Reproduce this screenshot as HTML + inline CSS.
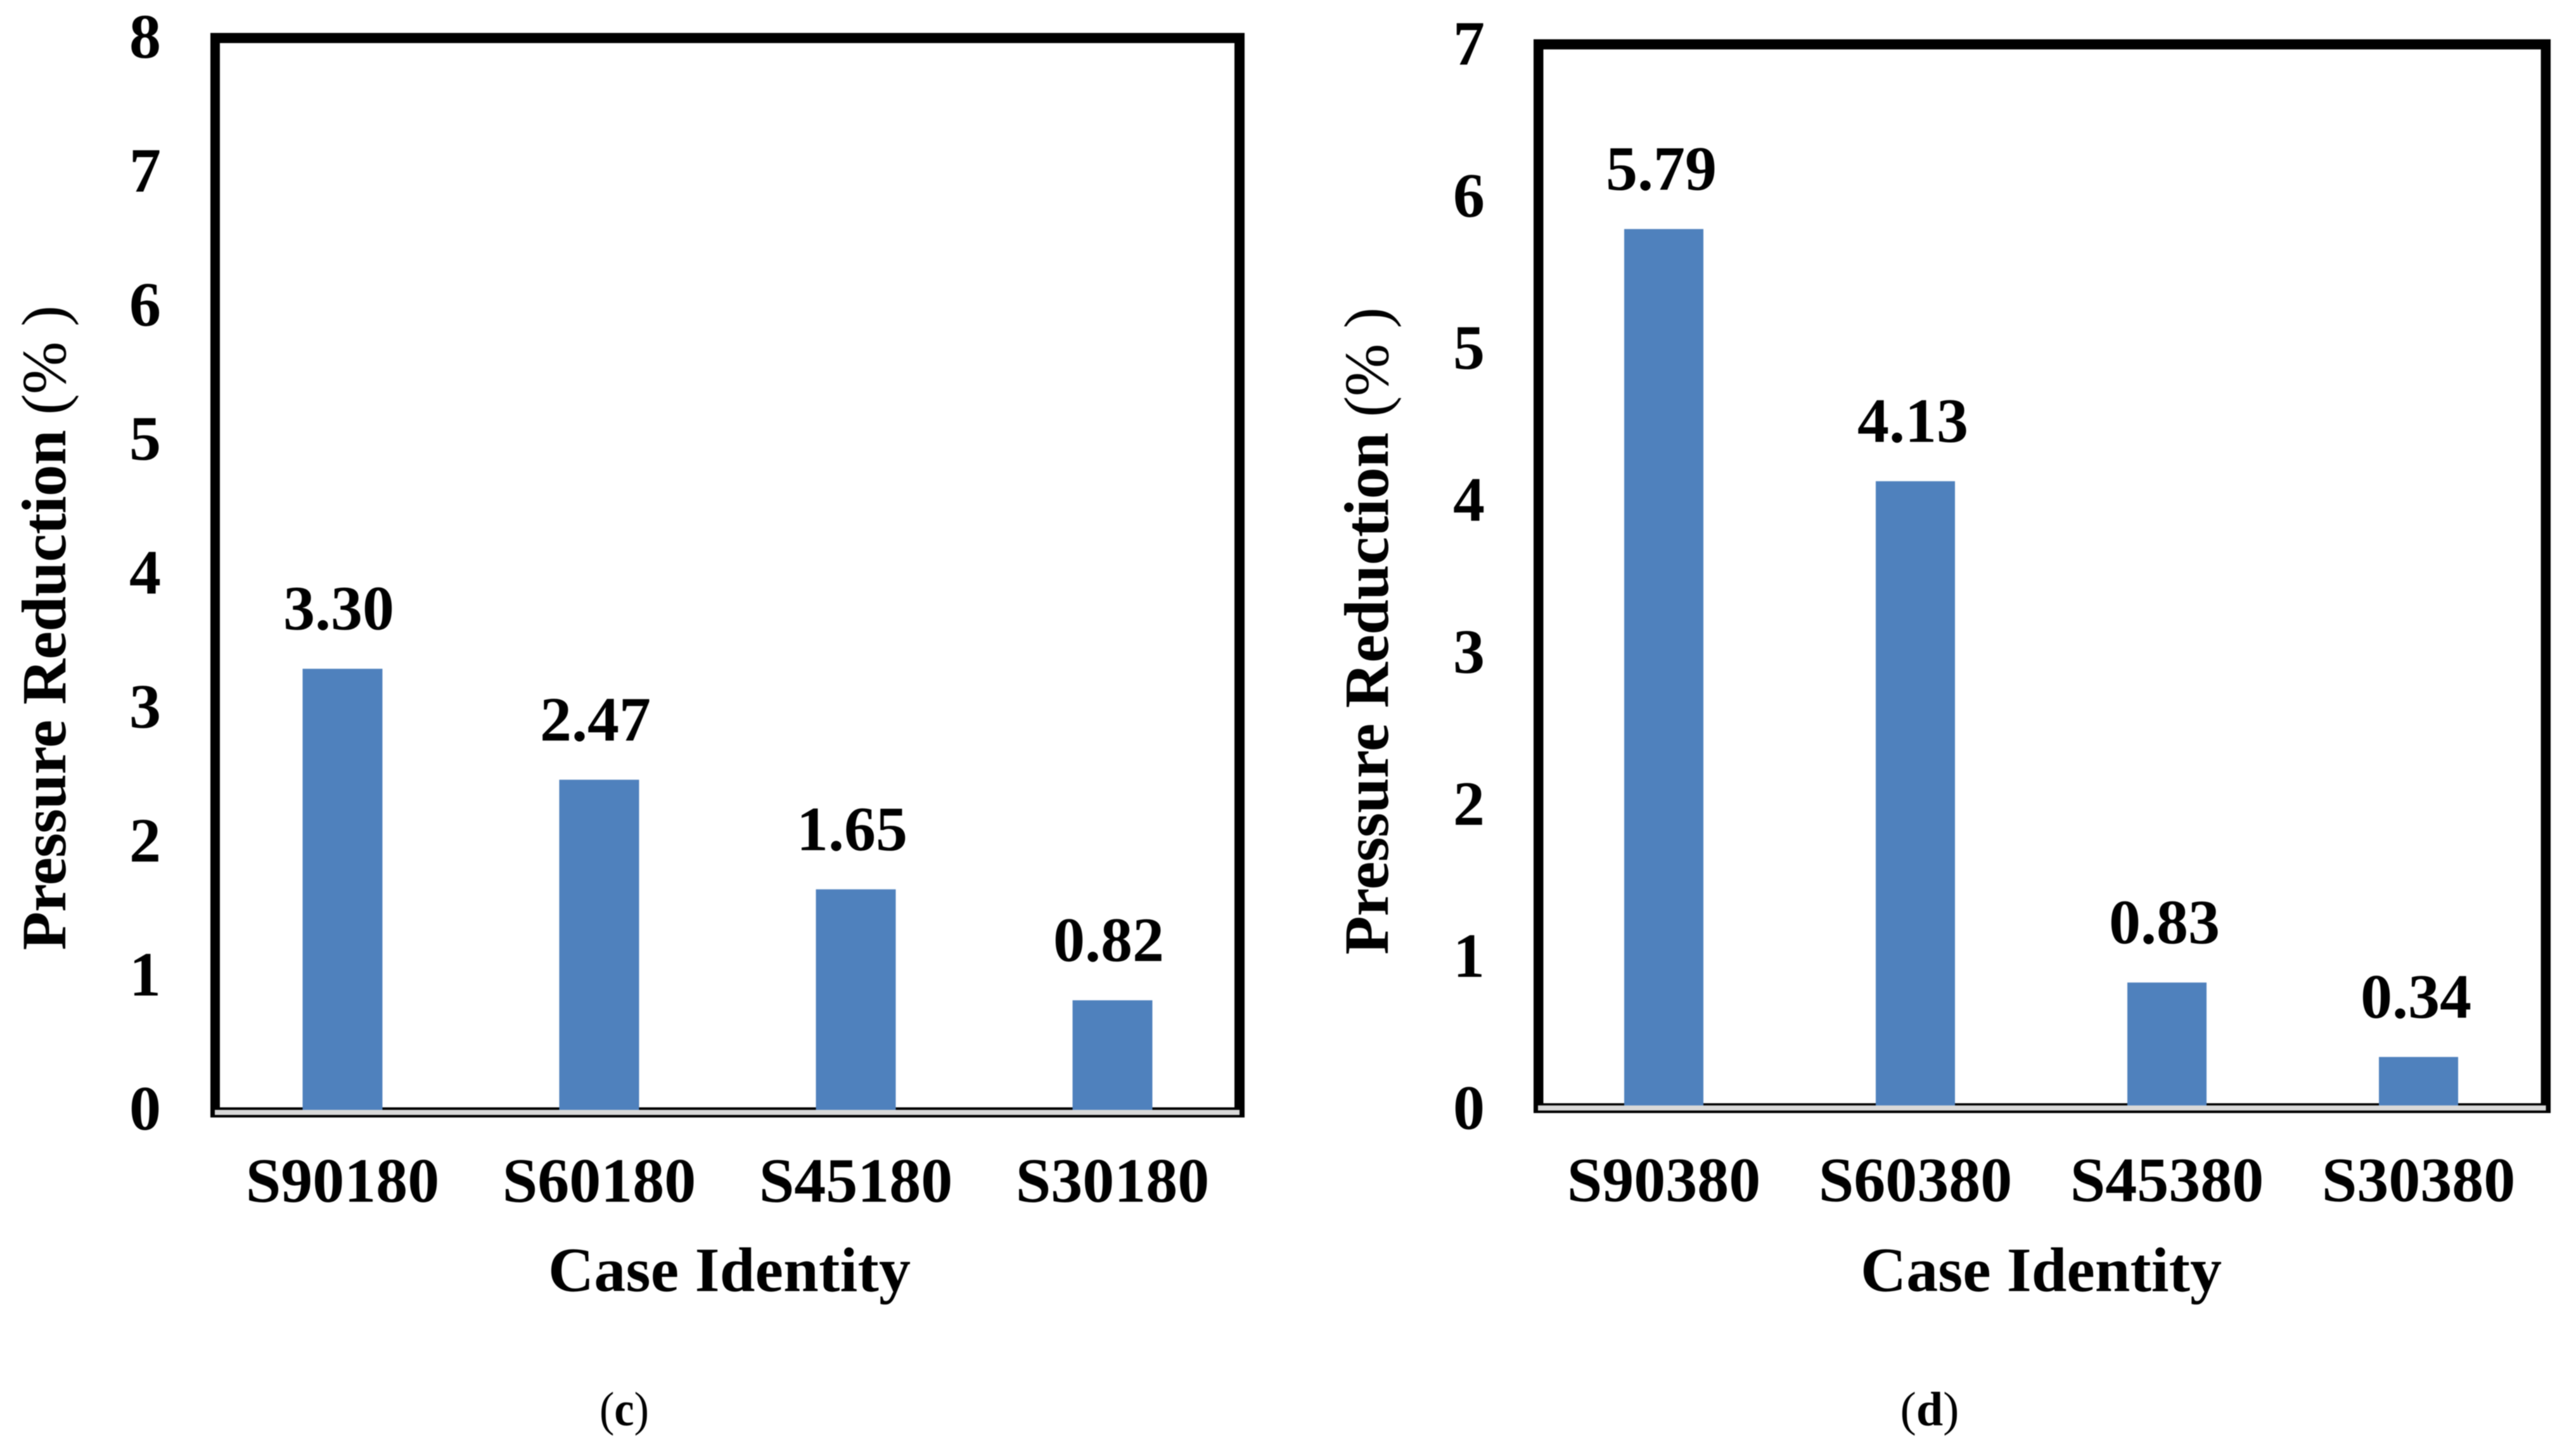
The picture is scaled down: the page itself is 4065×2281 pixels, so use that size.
<!DOCTYPE html>
<html lang="en">
<head>
<meta charset="utf-8">
<title>Pressure Reduction by Case Identity</title>
<style>
html,body{margin:0;padding:0;background:#fff;}
svg{display:block;filter:blur(0.8px);}
text{font-family:"Liberation Serif",serif;font-weight:bold;fill:#000;}
</style>
</head>
<body>
<svg id="figure" xmlns="http://www.w3.org/2000/svg" width="4065" height="2281" viewBox="0 0 4065 2281">
  <rect x="0" y="0" width="4065" height="2281" fill="#ffffff"/>
  <g id="panel-c">
    <rect x="332" y="52" width="1632" height="1712" fill="#000"/>
    <rect x="347" y="68" width="1601" height="1680" fill="#fff"/>
    <rect x="339" y="1752" width="1617" height="8" fill="#d9d9d9"/>
    <text transform="translate(103,1500) rotate(-90)" font-size="100" textLength="1018">Pressure Reduction <tspan font-weight="normal">(% )</tspan></text>
    <text x="1151" y="2038" font-size="100" text-anchor="middle" textLength="572">Case Identity</text>
    <text x="985" y="2250" font-size="76" text-anchor="middle" textLength="78" lengthAdjust="spacingAndGlyphs"><tspan font-weight="normal">(</tspan>c<tspan font-weight="normal">)</tspan></text>
  </g>
  <g id="panel-d">
    <rect x="2420" y="62" width="1605" height="1695" fill="#000"/>
    <rect x="2435.5" y="78" width="1574" height="1663.5" fill="#fff"/>
    <rect x="2427" y="1745" width="1590.5" height="8" fill="#d9d9d9"/>
    <text transform="translate(2190,1507) rotate(-90)" font-size="100" textLength="1022">Pressure Reduction <tspan font-weight="normal">(% )</tspan></text>
    <text x="3221" y="2038" font-size="100" text-anchor="middle" textLength="570">Case Identity</text>
    <text x="3045" y="2250" font-size="76" text-anchor="middle"><tspan font-weight="normal">(</tspan>d<tspan font-weight="normal">)</tspan></text>
  </g>
</svg>
<script>
var categoriesC = ["S90180", "S60180", "S45180", "S30180"];
var valuesC = [3.30, 2.47, 1.65, 0.82];
var yTicksC = [0, 1, 2, 3, 4, 5, 6, 7, 8];

var categoriesD = ["S90380", "S60380", "S45380", "S30380"];
var valuesD = [5.79, 4.13, 0.83, 0.34];
var yTicksD = [0, 1, 2, 3, 4, 5, 6, 7];

var NS = "http://www.w3.org/2000/svg";

function makeBandScale(start, step) {
  return function (i) { return start + (i + 0.5) * step; };
}
function makeLinearScale(zero, perUnit) {
  return function (v) { return zero - v * perUnit; };
}

function drawPanel(prefix, cats, vals, ticks, opt) {
  var parent = document.getElementById("panel-" + prefix);
  var x = makeBandScale(opt.bandStart, opt.bandStep);
  var y = makeLinearScale(opt.zeroY, opt.unit);
  var tickY = makeLinearScale(opt.tickZero, opt.tickUnit);

  ticks.forEach(function (t) {
    var label = document.createElementNS(NS, "text");
    
    
    label.setAttribute("x", opt.tickX);
    label.setAttribute("y", tickY(t));
    label.setAttribute("font-size", 100);
    label.setAttribute("text-anchor", "end");
    label.textContent = String(t);
    parent.appendChild(label);
  });

  cats.forEach(function (cat, i) {
    var cx = x(i);
    var top = y(vals[i]);

    var bar = document.createElementNS(NS, "rect");
    
    
    bar.setAttribute("x", cx - opt.barWidth / 2);
    bar.setAttribute("y", top);
    bar.setAttribute("width", opt.barWidth);
    bar.setAttribute("height", opt.barBottom - top);
    bar.setAttribute("fill", "#4f81bd");
    parent.appendChild(bar);

    var value = document.createElementNS(NS, "text");
    
    
    value.setAttribute("x", cx + opt.valueDx);
    value.setAttribute("y", top - 62);
    value.setAttribute("font-size", 100);
    value.setAttribute("text-anchor", "middle");
    value.textContent = vals[i].toFixed(2);
    parent.appendChild(value);

    var catLabel = document.createElementNS(NS, "text");
    
    
    catLabel.setAttribute("x", cx);
    catLabel.setAttribute("y", opt.catY);
    catLabel.setAttribute("font-size", 100);
    catLabel.setAttribute("text-anchor", "middle");
    catLabel.textContent = cat;
    parent.appendChild(catLabel);
  });
}

drawPanel("c", categoriesC, valuesC, yTicksC, {
  bandStart: 338, bandStep: 405, barWidth: 126,
  zeroY: 1752, unit: 211, barBottom: 1752, valueDx: -6,
  tickX: 254, tickZero: 1783, tickUnit: 211.5,
  catY: 1897
});
drawPanel("d", categoriesD, valuesD, yTicksD, {
  bandStart: 2427, bandStep: 397, barWidth: 125,
  zeroY: 1750, unit: 239.8, barBottom: 1745, valueDx: -4,
  tickX: 2343, tickZero: 1782, tickUnit: 240,
  catY: 1896
});
</script>
</body>
</html>
